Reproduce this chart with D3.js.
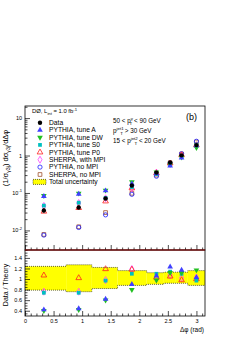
<!DOCTYPE html>
<html>
<head>
<meta charset="utf-8">
<script src="https://cdn.jsdelivr.net/npm/d3@7"></script>
<style>
  body { margin: 0; background: #fff; }
  svg text { font-family: "Liberation Sans", Arial, sans-serif; fill: #000; }
</style>
</head>
<body>
<div id="plot"></div>
<script>
// Δφ bin centres (rad)
let dphi = [0.33, 0.94, 1.41, 1.87, 2.30, 2.54, 2.74, 3.00];

// normalized cross sections (upper panel)
let dataVals = [0.034, 0.041, 0.071, 0.158, 0.35, 0.65, 1.01, 1.9];
let dataErr = [0.004, 0.004, 0.006, 0.012, 0.02, 0.04, 0.05, 0.09];
let tuneA = [0.081, 0.093, 0.115, 0.175, 0.33, 0.53, 0.86, 1.85];
let tuneDW = [0.085, 0.098, 0.118, 0.198, 0.36, 0.58, 0.90, 1.62];
let tuneS0 = [0.046, 0.055, 0.073, 0.144, 0.32, 0.57, 0.92, 1.96];
let tuneP0 = [0.032, 0.040, 0.060, 0.134, 0.34, 0.62, 1.03, 1.9];
let sherpaMPI = [0.045, 0.054, 0.072, 0.133, 0.35, 0.61, 0.99, 1.84];
let pythiaNoMPI = [0.0075, 0.012, 0.026, 0.092, 0.28, 0.62, 1.12, 2.4];
let sherpaNoMPI = [0.0078, 0.0125, 0.030, 0.098, 0.30, 0.64, 1.10, 2.3];

// data / theory (lower panel)
let ratioA = [0.42, 0.44, 0.62, 0.90, 1.06, 1.23, 1.17, 1.03];
let ratioDW = [0.40, 0.42, 0.60, 0.80, 0.98, 1.12, 1.12, 1.17];
let ratioS0 = [0.74, 0.74, 0.97, 1.10, 1.10, 1.14, 1.10, 0.97];
let ratioP0 = [1.07, 1.02, 1.19, 1.18, 1.03, 1.05, 0.98, 1.00];
let ratioSherpa = [0.76, 0.76, 0.98, 1.19, 1.00, 1.07, 1.02, 1.03];

// total uncertainty band
let binEdges = [0, 0.72, 1.17, 1.62, 2.13, 2.43, 2.64, 2.85, 3.15];
let bandLo = [0.79, 0.76, 0.82, 0.88, 0.90, 0.92, 0.92, 0.88];
let bandHi = [1.24, 1.27, 1.22, 1.16, 1.12, 1.13, 1.13, 1.16];

let yTicksTop = [0.01, 0.1, 1, 10];
let yTickLabelsTop = ['10^-2', '10^-1', '1', '10'];
let xTicks = [0, 0.5, 1, 1.5, 2, 2.5, 3];
let yTicksRatio = [0.4, 0.6, 0.8, 1, 1.2, 1.4];

let svgWidth = 240;
let svgHeight = 340;

let $svg = d3.select('#plot')
    .append('svg')
    .attr('width', svgWidth)
    .attr('height', svgHeight);

let xScale = d3.scaleLinear().domain([0, 3.15]).range([25, 205]);
let yScale = d3.scaleLog().domain([0.003, 21]).range([250, 106]);
let rScale = d3.scaleLinear().domain([0.3, 1.55]).range([316, 250]);

// ---- ratio band
let bins = d3.range(bandLo.length);
$svg.append('g').selectAll('rect')
    .data(bins)
    .enter()
    .append('rect')
    .attr('x', i => xScale(binEdges[i]))
    .attr('width', i => xScale(binEdges[i + 1]) - xScale(binEdges[i]))
    .attr('y', i => rScale(bandHi[i]))
    .attr('height', i => rScale(bandLo[i]) - rScale(bandHi[i]))
    .attr('fill', '#ffff00');

// dashed outline of the band
let bandTop = [], bandBot = [];
bins.forEach(i => {
    bandTop.push([binEdges[i], bandHi[i]], [binEdges[i + 1], bandHi[i]]);
    bandBot.push([binEdges[i], bandLo[i]], [binEdges[i + 1], bandLo[i]]);
});
let bandLine = d3.line().x(d => xScale(d[0])).y(d => rScale(d[1]));
[bandTop, bandBot].forEach(pts => {
    $svg.append('path')
        .attr('d', bandLine(pts))
        .attr('fill', 'none')
        .attr('stroke', '#000')
        .attr('stroke-width', 0.6)
        .attr('stroke-dasharray', '1,1');
});

// ---- axes
function styleAxis(g) {
    g.select('.domain').remove();
    g.selectAll('line').attr('stroke', '#000').attr('stroke-width', 0.7);
    g.selectAll('text').attr('font-size', 5.5).attr('fill', '#000');
}

// upper panel y axis
$svg.append('g')
    .attr('transform', 'translate(25,0)')
    .call(d3.axisLeft(yScale).tickValues(yTicksTop).tickSize(-5).tickPadding(3).tickFormat(() => ''))
    .call(styleAxis);

let minorY = [];
[0.001, 0.01, 0.1, 1, 10].forEach(d => {
    for (let k = 2; k <= 9; k++) {
        let v = d * k;
        if (v > 0.003 && v < 21) minorY.push(v);
    }
});
$svg.append('g')
    .attr('transform', 'translate(25,0)')
    .call(d3.axisLeft(yScale).tickValues(minorY).tickSize(-2.5).tickFormat(() => ''))
    .call(styleAxis);

// y tick labels with exponents
yTicksTop.forEach((v, i) => {
    let parts = yTickLabelsTop[i].split('^');
    let t = $svg.append('text')
        .attr('x', 22)
        .attr('y', yScale(v) + 2)
        .attr('text-anchor', 'end')
        .attr('font-size', 5.5);
    t.append('tspan').text(parts[0]);
    if (parts[1]) {
        t.append('tspan').attr('dy', -2.5).attr('font-size', 4).text(parts[1]);
    }
});

// upper panel x ticks (no labels)
let minorX = d3.range(0, 32).map(i => i / 10).filter(v => xTicks.indexOf(v) < 0);
$svg.append('g')
    .attr('transform', 'translate(0,250)')
    .call(d3.axisBottom(xScale).tickValues(xTicks).tickSize(-5).tickFormat(() => ''))
    .call(styleAxis);
$svg.append('g')
    .attr('transform', 'translate(0,250)')
    .call(d3.axisBottom(xScale).tickValues(minorX).tickSize(-2.5).tickFormat(() => ''))
    .call(styleAxis);

// ratio panel axes
$svg.append('g')
    .attr('transform', 'translate(25,0)')
    .call(d3.axisLeft(rScale).tickValues(yTicksRatio).tickSize(-5).tickPadding(3).tickFormat(d3.format('')))
    .call(styleAxis);
$svg.append('g')
    .attr('transform', 'translate(25,0)')
    .call(d3.axisLeft(rScale).tickValues(d3.range(0.35, 1.55, 0.05).filter(v => Math.abs(v * 5 - Math.round(v * 5)) > 0.01)).tickSize(-2.5).tickFormat(() => ''))
    .call(styleAxis);
$svg.append('g')
    .attr('transform', 'translate(0,316)')
    .call(d3.axisBottom(xScale).tickValues(xTicks).tickSize(-5).tickPadding(3).tickFormat(d3.format('')))
    .call(styleAxis);
$svg.append('g')
    .attr('transform', 'translate(0,316)')
    .call(d3.axisBottom(xScale).tickValues(minorX).tickSize(-2.5).tickFormat(() => ''))
    .call(styleAxis);

// frames
$svg.append('rect')
    .attr('x', 25).attr('y', 106).attr('width', 180).attr('height', 144)
    .attr('fill', 'none').attr('stroke', '#000').attr('stroke-width', 0.8);
$svg.append('rect')
    .attr('x', 25).attr('y', 250).attr('width', 180).attr('height', 66)
    .attr('fill', 'none').attr('stroke', '#000').attr('stroke-width', 0.8);
$svg.append('line')
    .attr('x1', 25).attr('x2', 205).attr('y1', 250).attr('y2', 250)
    .attr('stroke', '#a01010').attr('stroke-width', 1);

// ---- markers
let series = [
    { vals: sherpaNoMPI, ratio: null, color: '#a0522d', sym: d3.symbolSquare, fill: false, rot: 0, name: 'SHERPA, no MPI' },
    { vals: pythiaNoMPI, ratio: null, color: '#2020ff', sym: d3.symbolCircle, fill: false, rot: 0, name: 'PYTHIA, no MPI' },
    { vals: sherpaMPI, ratio: ratioSherpa, color: '#ff40ff', sym: d3.symbolDiamond, fill: false, rot: 0, name: 'SHERPA, with MPI' },
    { vals: tuneP0, ratio: ratioP0, color: '#ff2020', sym: d3.symbolTriangle, fill: false, rot: 0, name: 'PYTHIA, tune P0' },
    { vals: tuneS0, ratio: ratioS0, color: '#00c0c0', sym: d3.symbolSquare, fill: true, rot: 0, name: 'PYTHIA, tune S0' },
    { vals: tuneDW, ratio: ratioDW, color: '#20c020', sym: d3.symbolTriangle, fill: true, rot: 180, name: 'PYTHIA, tune DW' },
    { vals: tuneA, ratio: ratioA, color: '#4040ff', sym: d3.symbolTriangle, fill: true, rot: 0, name: 'PYTHIA, tune A' }
];

function drawMarker(g, x, y, s, size) {
    g.append('path')
        .attr('d', d3.symbol().type(s.sym).size(size)())
        .attr('transform', `translate(${x},${y}) rotate(${s.rot})`)
        .attr('fill', s.fill ? s.color : 'none')
        .attr('stroke', s.color)
        .attr('stroke-width', s.fill ? 0 : 0.8);
}

let $marks = $svg.append('g');
series.forEach(s => {
    s.vals.forEach((v, i) => drawMarker($marks, xScale(dphi[i]), yScale(v), s, 14));
    if (s.ratio) {
        s.ratio.forEach((v, i) => drawMarker($marks, xScale(dphi[i]), rScale(v), s, 14));
    }
});

// data with error bars
dataVals.forEach((v, i) => {
    $marks.append('line')
        .attr('x1', xScale(dphi[i])).attr('x2', xScale(dphi[i]))
        .attr('y1', yScale(v + dataErr[i])).attr('y2', yScale(v - dataErr[i]))
        .attr('stroke', '#000').attr('stroke-width', 0.8);
    $marks.append('circle')
        .attr('cx', xScale(dphi[i])).attr('cy', yScale(v))
        .attr('r', 2.2).attr('fill', '#000');
});

// ---- legend
let legendNames = ['Data'].concat(series.slice().reverse().map(s => s.name));
let legendSeries = series.slice().reverse();
let ly0 = 122.7, lstep = 7.4;
$svg.append('circle').attr('cx', 40).attr('cy', ly0).attr('r', 2.2).attr('fill', '#000');
legendSeries.forEach((s, i) => drawMarker($svg, 40, ly0 + lstep * (i + 1), s, 14));
legendNames.forEach((n, i) => {
    $svg.append('text')
        .attr('x', 49).attr('y', ly0 + lstep * i + 2.3)
        .attr('font-size', 6.7)
        .text(n);
});
let lyTot = ly0 + lstep * 8;
$svg.append('rect')
    .attr('x', 33).attr('y', lyTot - 2.5).attr('width', 13).attr('height', 5)
    .attr('fill', '#ffff00').attr('stroke', '#000').attr('stroke-width', 0.6).attr('stroke-dasharray', '1,1');
$svg.append('text')
    .attr('x', 49).attr('y', lyTot + 2.3)
    .attr('font-size', 6.7)
    .text('Total uncertainty');

// ---- annotations
let d0 = $svg.append('text').attr('x', 32).attr('y', 113).attr('font-size', 5.9);
d0.append('tspan').text('DØ, L');
d0.append('tspan').attr('dy', 1.5).attr('font-size', 4.2).text('int');
d0.append('tspan').attr('dy', -1.5).text(' = 1.0 fb');
d0.append('tspan').attr('dy', -2.5).attr('font-size', 4.2).text('-1');

$svg.append('text').attr('x', 186).attr('y', 120).attr('font-size', 9).text('(b)');

function cutLine(y, pre, sup, post) {
    let t = $svg.append('text').attr('x', 113).attr('y', y).attr('font-size', 6.3);
    t.append('tspan').text(pre + 'p');
    t.append('tspan').attr('dy', -2.7).attr('font-size', 4.4).text(sup);
    t.append('tspan').attr('dx', -3.3).attr('dy', 4.8).attr('font-size', 4.4).text('T');
    t.append('tspan').attr('dy', -2.1).text(post);
}
cutLine(123, '50 < ', 'γ', ' < 90 GeV');
cutLine(133, '', 'jet1', ' > 30 GeV');
cutLine(143, '15 < ', 'jet2', ' < 20 GeV');

// y axis titles
let yt = $svg.append('text')
    .attr('transform', 'translate(8,158) rotate(-90)')
    .attr('text-anchor', 'middle')
    .attr('font-size', 7.5);
yt.append('tspan').text('(1/σ');
yt.append('tspan').attr('dy', 1.8).attr('font-size', 5.3).text('γ3j');
yt.append('tspan').attr('dy', -1.8).text(') dσ');
yt.append('tspan').attr('dy', 1.8).attr('font-size', 5.3).text('γ3j');
yt.append('tspan').attr('dy', -1.8).text('/dΔφ');

$svg.append('text')
    .attr('transform', 'translate(8,285) rotate(-90)')
    .attr('text-anchor', 'middle')
    .attr('font-size', 7)
    .text('Data / Theory');

$svg.append('text')
    .attr('x', 204).attr('y', 332)
    .attr('text-anchor', 'end')
    .attr('font-size', 6.5)
    .text('Δφ (rad)');
</script>
</body>
</html>
